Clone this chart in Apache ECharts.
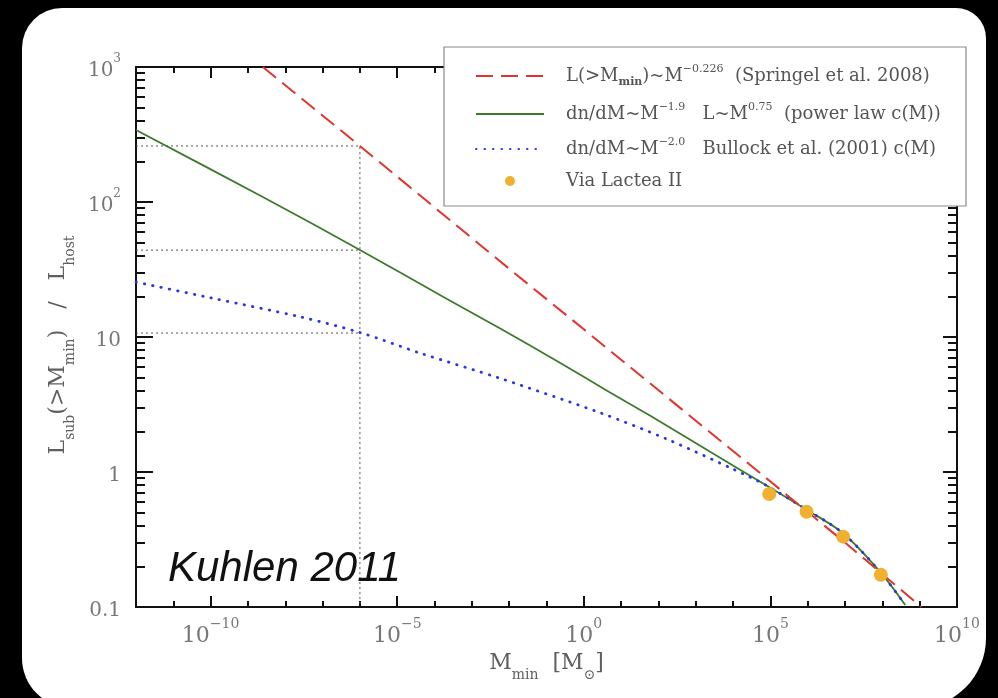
<!DOCTYPE html>
<html lang="en">
<head>
<meta charset="UTF-8">
<title>Kuhlen 2011</title>
<script src="https://cdn.jsdelivr.net/npm/echarts@6.0.0/dist/echarts.min.js"></script>
<style>
html, body { margin: 0; padding: 0; background: #000; }
#main { width: 998px; height: 698px; }
</style>
</head>
<body>
<div id="main"></div>
<script>
// values: M_min in solar masses, L_sub(>M_min)/L_host
var springelM = [2.5e-9, 1e-6, 1e-2, 1, 1e3, 1e5, 1e7, 1.1e9];
var springelL = [1000, 260, 32, 11.4, 2.4, 0.85, 0.30, 0.10];

var powerM = [1e-12, 2.5e-9, 9.5e-7, 2.1e-4, 5.6e-3, 0.19, 4.2, 59, 2900, 8.1e4, 9.5e5, 8.7e6, 8.7e7, 4.1e8];
var powerL = [341, 109, 44.5, 19.2, 11.6, 6.65, 4.0, 2.62, 1.37, 0.79, 0.524, 0.353, 0.182, 0.1035];

var bullockM = [1e-12, 1e-10, 2.5e-8, 1e-6, 4.1e-5, 5.6e-3, 2.7, 170, 1e4, 8.1e4, 9.5e5, 8.7e6, 8.7e7, 4.1e8];
var bullockL = [25.5, 19.5, 14.1, 10.8, 7.6, 4.95, 2.75, 1.75, 1.05, 0.79, 0.524, 0.353, 0.182, 0.1035];

var vlM = [9.3e4, 9.3e5, 8.9e6, 9.1e7];
var vlL = [0.687, 0.508, 0.332, 0.173];

// dotted guide lines at M = 1e-6
var guideM = [1e-12, 1e-6];
var guideL = [260, 44, 10.7];

var xMajor = [1e-10, 1e-5, 1, 1e5, 1e10];
var yMajor = [0.1, 1, 10, 100, 1000];

var xMinor = [];
for (var e = -12; e <= 10; e++) xMinor.push(Math.pow(10, e));
var yMinor = [];
for (var d = -1; d <= 2; d++) {
    for (var m = 2; m <= 9; m++) yMinor.push(m * Math.pow(10, d));
}

function pairs(xs, ys) {
    var out = [];
    for (var i = 0; i < xs.length; i++) out.push([xs[i], ys[i]]);
    return out;
}

var serif = 'DejaVu Serif';
var labelGrey = '#777';

function xLabel(v) {
    var p = Math.round(Math.log10(v));
    return '{b|10}{sup|' + (p < 0 ? '\u2212' : '') + Math.abs(p) + '}';
}
function yLabel(v) {
    var p = Math.round(Math.log10(v));
    if (p === -1) return '{b|0.1}';
    if (p === 0) return '{b|1}';
    if (p === 1) return '{b|10}';
    return '{b|10}{sup|' + p + '}';
}
function tickRich(size) {
    return {
        b: { fontSize: size, fontFamily: serif, color: labelGrey, verticalAlign: 'bottom', lineHeight: size + 8 },
        sup: { fontSize: Math.round(size * 0.62), fontFamily: serif, color: labelGrey, verticalAlign: 'top', lineHeight: size + 8 }
    };
}
var nameRich = {
    n: { fontSize: 22, fontFamily: serif, color: '#5f5f5f', verticalAlign: 'top', lineHeight: 30 },
    s: { fontSize: 14, fontFamily: serif, color: '#5f5f5f', verticalAlign: 'bottom', lineHeight: 30 }
};

function tickAxis(pos, values, len, extra) {
    var a = {
        position: pos,
        type: 'log',
        logBase: 10,
        axisLine: { show: false },
        axisTick: { show: true, inside: true, length: len, customValues: values,
                    lineStyle: { color: '#111', width: 2 } },
        axisLabel: { show: false },
        splitLine: { show: false }
    };
    for (var k in extra) a[k] = extra[k];
    return a;
}

var xBase = { min: 1e-12, max: 1e10 };
var yBase = { min: 0.1, max: 1000 };
function merge(a, b) { var o = {}; for (var k in a) o[k] = a[k]; for (var j in b) o[j] = b[j]; return o; }

var xAxes = [
    tickAxis('bottom', xMajor, 11, merge(xBase, {
        axisLine: { show: true, lineStyle: { color: '#111', width: 2 } },
        axisLabel: { show: true, customValues: xMajor, formatter: xLabel, rich: tickRich(22), margin: 10 },
        name: '{n|M}{s|min}{n|  [M}{s|\u2299}{n|]}',
        nameLocation: 'middle', nameGap: 42, nameTextStyle: { rich: nameRich }
    })),
    tickAxis('bottom', xMinor, 6, xBase),
    tickAxis('top', xMajor, 11, merge(xBase, {
        axisLine: { show: true, lineStyle: { color: '#111', width: 2 } }
    })),
    tickAxis('top', xMinor, 6, xBase)
];
var yAxes = [
    tickAxis('left', yMajor, 17, merge(yBase, {
        axisLine: { show: true, lineStyle: { color: '#111', width: 2 } },
        axisLabel: { show: true, customValues: yMajor, formatter: yLabel, rich: tickRich(20), margin: 15 },
        name: '{n|L}{s|sub}{n|(>M}{s|min}{n|)   /   L}{s|host}',
        nameLocation: 'middle', nameGap: 51,
        nameTextStyle: { rich: nameRich, padding: [0, 16, 0, 0] }
    })),
    tickAxis('left', yMinor, 9, yBase),
    tickAxis('right', yMajor, 14, merge(yBase, {
        axisLine: { show: true, lineStyle: { color: '#111', width: 2 } }
    })),
    tickAxis('right', yMinor, 9, yBase)
];

var guideStyle = { color: '#555', width: 1, type: [2, 3] };
function guide(data) {
    return { type: 'line', data: data, symbol: 'none', silent: true, z: 1,
             lineStyle: guideStyle };
}

var legendText = {
    'springel': '{n|L(>M}{s|min}{n|)~M}{p|\u22120.226}{n|  (Springel et al. 2008)}',
    'power': '{n|dn/dM~M}{p|\u22121.9}{n|   L~M}{p|0.75}{n|  (power law c(M))}',
    'bullock': '{n|dn/dM~M}{p|\u22122.0}{n|   Bullock et al. (2001) c(M)}',
    'vl': '{n|Via Lactea II}'
};
var noSymbol = { opacity: 0 };

var chart = echarts.init(document.getElementById('main'));
chart.setOption({
    animation: false,
    backgroundColor: 'transparent',
    graphic: [
        { type: 'rect', z: -10, shape: { x: 22, y: 8, width: 964, height: 700, r: [40, 30, 70, 50] },
          style: { fill: '#fff' } },
        { type: 'rect', z: 3, shape: { x: 444, y: 47, width: 522, height: 159 },
          style: { fill: '#fff', stroke: '#8a8a8a', lineWidth: 1.2 } },
        { type: 'text', z: 5, x: 168, y: 548,
          style: { text: 'Kuhlen 2011', fontSize: 42, fontStyle: 'italic',
                   fontFamily: 'Liberation Sans', fill: '#111' } }
    ],
    grid: { left: 136, right: 41, top: 67, bottom: 91, containLabel: false },
    xAxis: xAxes,
    yAxis: yAxes,
    legend: {
        z: 6,
        orient: 'vertical',
        left: 470,
        top: 59,
        itemWidth: 68,
        itemHeight: 10,
        itemGap: 14,
        data: [
            { name: 'springel', itemStyle: noSymbol },
            { name: 'power', itemStyle: noSymbol },
            { name: 'bullock', itemStyle: noSymbol },
            { name: 'vl', icon: 'circle' }
        ],
        formatter: function (name) { return legendText[name]; },
        textStyle: {
            padding: [0, 0, 0, 17],
            rich: {
                n: { fontSize: 18, fontFamily: serif, color: '#555', verticalAlign: 'middle', lineHeight: 24 },
                s: { fontSize: 11, fontFamily: serif, color: '#555', fontWeight: 'bold', verticalAlign: 'bottom', lineHeight: 24 },
                p: { fontSize: 11, fontFamily: serif, color: '#555', verticalAlign: 'top', lineHeight: 24 }
            }
        }
    },
    series: [
        guide([[guideM[0], guideL[0]], [guideM[1], guideL[0]], [guideM[1], 0.1]]),
        guide([[guideM[0], guideL[1]], [guideM[1], guideL[1]]]),
        guide([[guideM[0], guideL[2]], [guideM[1], guideL[2]]]),
        {
            name: 'power', type: 'line', symbol: 'none', z: 3, smooth: 0.3,
            data: pairs(powerM, powerL),
            lineStyle: { color: '#3c7a2c', width: 1.8 },
            itemStyle: { color: '#3c7a2c' }
        },
        {
            name: 'bullock', type: 'line', symbol: 'none', z: 3, smooth: 0.3,
            data: pairs(bullockM, bullockL),
            lineStyle: { color: '#2638e0', width: 2.8, type: [0.5, 8], cap: 'round' },
            itemStyle: { color: '#2638e0' }
        },
        {
            name: 'springel', type: 'line', symbol: 'none', z: 3,
            data: pairs(springelM, springelL),
            lineStyle: { color: '#e0342e', width: 2, type: [17, 8] },
            itemStyle: { color: '#e0342e' }
        },
        {
            name: 'vl', type: 'scatter', symbolSize: 14, z: 4,
            data: pairs(vlM, vlL),
            itemStyle: { color: '#f0b030', opacity: 1 }
        }
    ]
});
</script>
</body>
</html>
